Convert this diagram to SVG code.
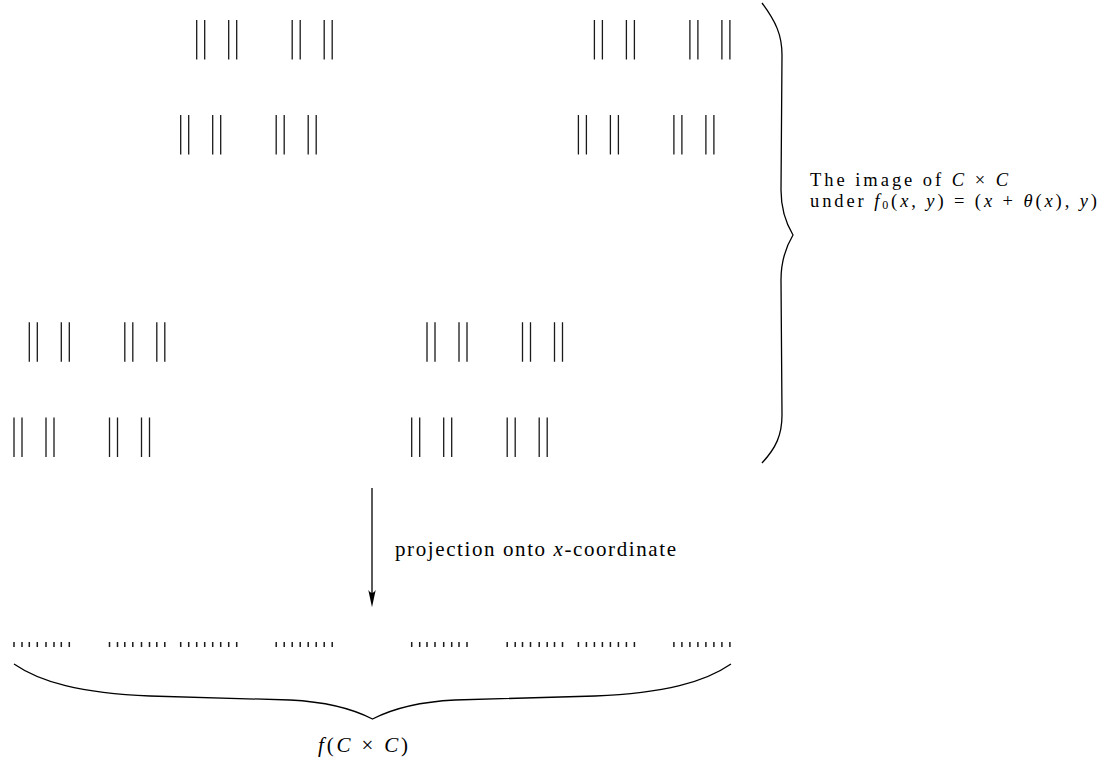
<svg xmlns="http://www.w3.org/2000/svg" xmlns:xlink="http://www.w3.org/1999/xlink" width="1118" height="763" viewBox="0 0 1118 763">
<style>
.bar{stroke:#1a1a1a;stroke-width:1.3;fill:none}
.tick{stroke:#1a1a1a;stroke-width:1.5;fill:none}
.brace{stroke:#000;stroke-width:1.3;fill:none}
.lbl{font-family:"Liberation Serif","DejaVu Serif",serif;font-size:21px;fill:#000}
.side{font-size:18.5px}
.it{font-style:italic}
</style>
<defs>
<g id="cl">
<path class="bar" d="M0,0V39.5M8,0V39.5M32,0V39.5M40,0V39.5M95.5,0V39.5M103.5,0V39.5M127.5,0V39.5M135.5,0V39.5"/>
</g>
<g id="tk">
<path class="tick" d="M0,0V4.8M8,0V4.8M32,0V4.8M40,0V4.8M95.5,0V4.8M103.5,0V4.8M127.5,0V4.8M135.5,0V4.8"/>
</g>
</defs>
<g id="image-set">
<use xlink:href="#cl" href="#cl" x="196.7" y="20"/>
<use xlink:href="#cl" href="#cl" x="594.4" y="20"/>
<use xlink:href="#cl" href="#cl" x="180.7" y="115"/>
<use xlink:href="#cl" href="#cl" x="578.4" y="115"/>
<use xlink:href="#cl" href="#cl" x="29.3" y="322.3"/>
<use xlink:href="#cl" href="#cl" x="427" y="322.3"/>
<use xlink:href="#cl" href="#cl" x="14" y="417.5"/>
<use xlink:href="#cl" href="#cl" x="411.7" y="417.5"/>
</g>
<g id="projection-set">
<use xlink:href="#tk" href="#tk" x="196.7" y="642.1"/>
<use xlink:href="#tk" href="#tk" x="594.4" y="642.1"/>
<use xlink:href="#tk" href="#tk" x="180.7" y="642.1"/>
<use xlink:href="#tk" href="#tk" x="578.4" y="642.1"/>
<use xlink:href="#tk" href="#tk" x="29.3" y="642.1"/>
<use xlink:href="#tk" href="#tk" x="427" y="642.1"/>
<use xlink:href="#tk" href="#tk" x="14" y="642.1"/>
<use xlink:href="#tk" href="#tk" x="411.7" y="642.1"/>
</g>
<g id="right-brace">
<path class="brace" d="M762,3 C776,22 782,35 782,55 L781,190 C781,210 787,225 793,235 C787,245 781,260 781,280 L782,415 C782,435 776,448 762,463"/>
</g>
<g id="bottom-brace">
<path class="brace" d="M14,664 C40,682 80,693 150,696 L290,700 C330,702 355,710 372.5,719 C390,710 415,702 455,700 L595,696 C665,693 705,682 731,664"/>
</g>
<g id="label-image">
<text class="lbl side"><tspan x="810" y="185.5" textLength="198" lengthAdjust="spacing">The image of <tspan class="it">C</tspan> × <tspan class="it">C</tspan></tspan><tspan x="810" y="206.5" textLength="287" lengthAdjust="spacing">under <tspan class="it">f</tspan><tspan font-size="12" dy="2">0</tspan><tspan dy="-2">(</tspan><tspan class="it">x</tspan>, <tspan class="it">y</tspan>) = (<tspan class="it">x</tspan> + <tspan class="it">θ</tspan>(<tspan class="it">x</tspan>), <tspan class="it">y</tspan>)</tspan></text>
</g>
<g id="connectors">
<line x1="372" y1="488" x2="372" y2="598" stroke="#000" stroke-width="1.3"/>
<path d="M372,607.3 L368.3,590 Q372,596 375.7,590 Z" fill="#000"/>
</g>
<g id="label-projection">
<text class="lbl" x="395" y="556" textLength="281" lengthAdjust="spacing">projection onto <tspan class="it">x</tspan>-coordinate</text>
</g>
<g id="label-f">
<text class="lbl" x="318" y="752" textLength="90" lengthAdjust="spacing"><tspan class="it">f</tspan>(<tspan class="it">C</tspan> × <tspan class="it">C</tspan>)</text>
</g>
</svg>
